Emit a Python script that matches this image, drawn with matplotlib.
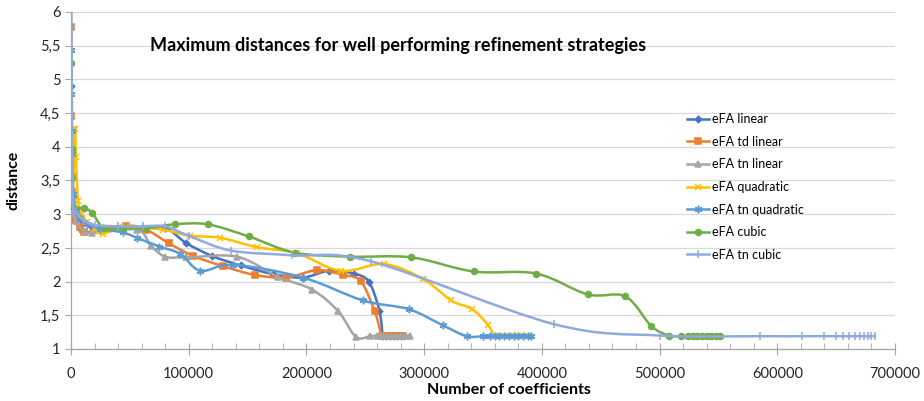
import numpy as np
import matplotlib
matplotlib.use("Agg")
import matplotlib.pyplot as plt
from matplotlib.path import Path
from matplotlib.patches import PathPatch
from matplotlib.lines import Line2D
from matplotlib.ticker import MultipleLocator, FuncFormatter

plt.rcParams["font.family"] = ["Lato", "DejaVu Sans"]

# values
LIN_X = [200, 600, 1500, 3000, 6000, 10000, 17000, 27000, 42000, 60000, 80000,
         98000, 120000, 144000, 172000, 197000, 219000, 240000, 253000, 262000,
         265000, 268000, 271000, 274000, 277000, 280000, 283000]
LIN_Y = [4.9, 3.6, 3.25, 3.05, 2.95, 2.88, 2.82, 2.8, 2.8, 2.8, 2.8,
         2.57, 2.38, 2.24, 2.11, 2.06, 2.16, 2.12, 2.0, 1.57,
         1.2, 1.2, 1.2, 1.2, 1.2, 1.2, 1.2]

TDL_X = [200, 400, 600, 800, 1000, 2500, 7600, 11000, 47000, 64000, 83000,
         104000, 129000, 156000, 183000, 209000, 231000, 246000, 258000,
         264000, 267000, 270000, 273000, 276000, 279000, 282000]
TDL_Y = [5.78, 4.45, 3.75, 3.33, 3.15, 2.91, 2.81, 2.73, 2.83, 2.77, 2.57,
         2.38, 2.23, 2.1, 2.06, 2.17, 2.1, 2.01, 1.56,
         1.2, 1.2, 1.2, 1.2, 1.2, 1.2, 1.2]

TNL_X = [300, 1000, 4000, 12000, 18000, 56000, 68000, 80000, 98000, 141000,
         176000, 205000, 227000, 242000, 254000, 260000, 264000, 268000,
         272000, 276000, 280000, 284000, 288000]
TNL_Y = [3.6, 3.1, 2.9, 2.73, 2.72, 2.77, 2.53, 2.37, 2.36, 2.37,
         2.07, 1.88, 1.56, 1.18, 1.19, 1.2, 1.2, 1.2,
         1.2, 1.2, 1.2, 1.2, 1.2]

QUA_X = [1500, 3400, 4200, 6000, 9000, 14000, 20000, 27000, 47000, 78000,
         101000, 127000, 158000, 192000, 229000, 266000, 299000, 323000,
         341000, 354000, 360000, 364000, 368000, 372000, 376000, 380000,
         384000, 388000]
QUA_Y = [3.2, 4.27, 3.85, 3.2, 3.0, 2.88, 2.78, 2.71, 2.81, 2.77,
         2.68, 2.65, 2.51, 2.42, 2.16, 2.26, 2.04, 1.72,
         1.59, 1.36, 1.19, 1.2, 1.2, 1.2, 1.2, 1.2, 1.2, 1.2]

TNQ_X = [100, 300, 600, 1000, 2000, 4000, 8000, 14000, 25000, 44000, 56000,
         75000, 93000, 110000, 138000, 197000, 248000, 287000, 316000,
         336000, 350000, 356000, 360000, 364000, 368000, 372000, 376000,
         380000, 384000, 388000, 391000]
TNQ_Y = [5.43, 4.78, 4.23, 3.9, 3.3, 3.05, 2.95, 2.85, 2.78, 2.73, 2.65,
         2.52, 2.41, 2.16, 2.25, 2.06, 1.72, 1.59, 1.35,
         1.19, 1.19, 1.2, 1.2, 1.2, 1.2, 1.2, 1.2, 1.2, 1.2, 1.2, 1.2]

CUB_X = [300, 600, 900, 1500, 2500, 11000, 18000, 28000, 44000, 64000, 88000,
         116000, 151000, 190000, 237000, 289000, 342000, 395000, 439000,
         471000, 493000, 508000, 518000, 524000, 528000, 532000, 536000,
         540000, 544000, 548000, 551000]
CUB_Y = [5.25, 3.97, 3.53, 3.1, 3.09, 3.09, 3.02, 2.79, 2.79, 2.79, 2.85,
         2.85, 2.67, 2.43, 2.37, 2.36, 2.15, 2.12, 1.81,
         1.78, 1.34, 1.2, 1.19, 1.19, 1.19, 1.19, 1.19, 1.19, 1.19, 1.19, 1.19]

TNC_X = [300, 1500, 4000, 10000, 20000, 40000, 61000, 80000, 100000, 136000,
         188000, 255000, 410000, 500000, 585000, 621000, 640000, 650000,
         656000, 661000, 666000, 670000, 674000, 677000, 680000, 683000]
TNC_Y = [6.3, 3.3, 3.05, 2.92, 2.84, 2.82, 2.82, 2.82, 2.68, 2.46,
         2.39, 2.3, 1.37, 1.2, 1.19, 1.19, 1.19, 1.19,
         1.19, 1.19, 1.19, 1.19, 1.19, 1.19, 1.19, 1.19]

SERIES = [
    ("eFA linear", LIN_X, LIN_Y, "#4472C4", "D", 3.2),
    ("eFA td linear", TDL_X, TDL_Y, "#ED7D31", "s", 4.3),
    ("eFA tn linear", TNL_X, TNL_Y, "#A5A5A5", "^", 4.5),
    ("eFA quadratic", QUA_X, QUA_Y, "#FFC000", "x", 4.5),
    ("eFA tn quadratic", TNQ_X, TNQ_Y, "#5B9BD5", (6, 2, 0), 5.5),
    ("eFA cubic", CUB_X, CUB_Y, "#70AD47", "o", 4.3),
    ("eFA tn cubic", TNC_X, TNC_Y, "#8FAADC", "|", 5.5),
]


def smooth_path(x, y):
    # Excel style smoothed line: Catmull-Rom as cubic Bezier segments
    p = np.column_stack([x, y]).astype(float)
    n = len(p)
    verts, codes = [p[0]], [Path.MOVETO]
    for i in range(n - 1):
        p0 = p[i - 1] if i > 0 else p[i]
        p3 = p[i + 2] if i + 2 < n else p[i + 1]
        verts += [p[i] + (p[i + 1] - p0) / 6, p[i + 1] - (p3 - p[i]) / 6, p[i + 1]]
        codes += [Path.CURVE4] * 3
    return Path(verts, codes)


fig = plt.figure(figsize=(9.24, 4.01), dpi=100)
ax = fig.add_axes([71 / 924, 1 - 349 / 401, 824 / 924, 337 / 401])

handles = []
for k, (label, xs, ys, color, mk, ms) in enumerate(SERIES):
    ax.add_patch(PathPatch(smooth_path(xs, ys), facecolor="none", edgecolor=color,
                           lw=1.8, zorder=2 + k * 0.1, capstyle="round"))
    ax.plot(xs, ys, ls="none", marker=mk, ms=ms, color=color, mec=color,
            mew=1.1, zorder=2.05 + k * 0.1)
    handles.append(Line2D([], [], color=color, lw=1.8, marker=mk, ms=ms,
                          mec=color, mew=1.1))

ax.set_xlim(0, 700000)
ax.set_ylim(1, 6)
ax.xaxis.set_major_locator(MultipleLocator(100000))
ax.xaxis.set_minor_locator(MultipleLocator(20000))
ax.yaxis.set_major_locator(MultipleLocator(0.5))
ax.yaxis.set_major_formatter(FuncFormatter(
    lambda v, _: ("%g" % v).replace(".", ",")))
ax.xaxis.set_major_formatter(FuncFormatter(lambda v, _: "%d" % v))
ax.grid(axis="y", color="#D9D9D9", lw=0.9, zorder=0)
ax.set_axisbelow(True)
for s in ("top", "right"):
    ax.spines[s].set_visible(False)
for s in ("left", "bottom"):
    ax.spines[s].set_color("#A6A6A6")
    ax.spines[s].set_linewidth(0.9)
ax.tick_params(axis="x", which="major", direction="inout", length=8,
               color="#A6A6A6", labelsize=10.5, pad=9, labelcolor="#262626")
ax.tick_params(axis="x", which="minor", direction="in", length=4,
               color="#A6A6A6")
ax.tick_params(axis="y", length=4, color="#A6A6A6", labelsize=10.5,
               labelcolor="#262626")

ax.set_xlabel("Number of coefficients", fontsize=11.5, fontweight="bold",
              labelpad=0)
ax.xaxis.set_label_coords((509 - 71) / 824, -(383 - 349) / 337)
ax.set_ylabel("distance", fontsize=11.5, fontweight="bold")
ax.yaxis.set_label_coords(-(71 - 20) / 824, 0.5)

fig.text(398 / 924, 1 - 46 / 401,
         "Maximum distances for well performing refinement strategies",
         ha="center", va="center", fontsize=13, fontweight="bold")

ax.legend(handles, [s[0] for s in SERIES], loc="upper left",
          bbox_to_anchor=(687 / 924, 1 - 113 / 401),
          bbox_transform=fig.transFigure, frameon=False, fontsize=9,
          handlelength=1.75, handletextpad=0.25, labelspacing=0.85,
          borderpad=0, borderaxespad=0)

fig.savefig("out.png", dpi=100)
